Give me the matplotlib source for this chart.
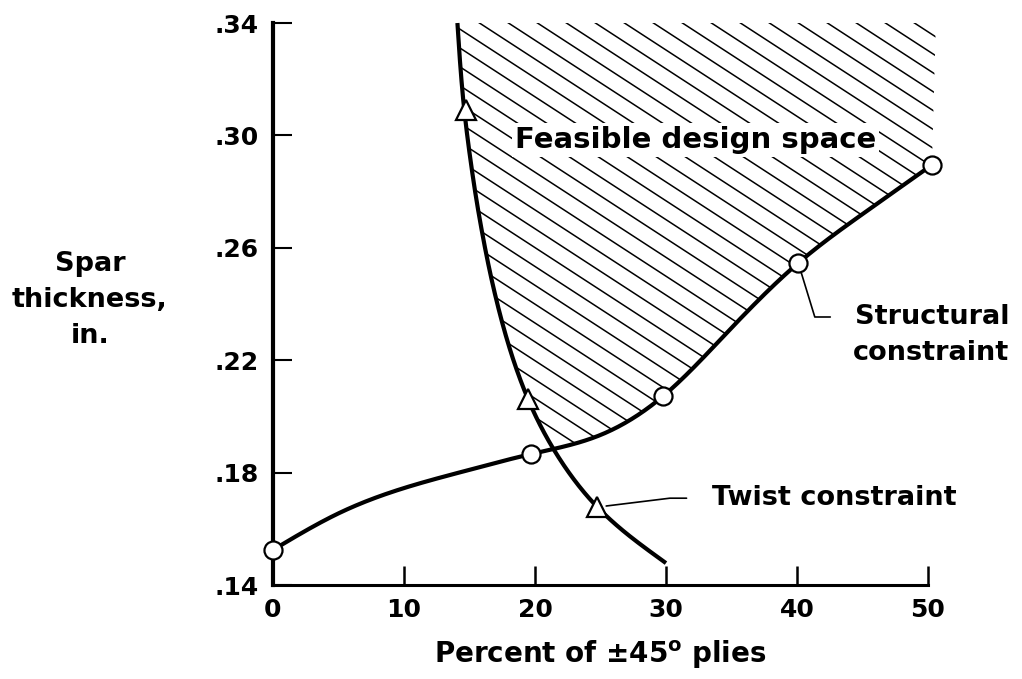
import numpy as np
import matplotlib
matplotlib.use("Agg")
import matplotlib.pyplot as plt
from matplotlib.patches import Polygon
from matplotlib.collections import LineCollection

# structural constraint: design points (circles) and traced curve
structural_x = [0, 19.7, 29.8, 40.1, 50.3]
structural_y = [0.1525, 0.1866, 0.2073, 0.2546, 0.2895]
structural_curve_x = [0, 5, 10, 15, 19.7, 25, 29.8, 35, 40.1, 45, 50.3]
structural_curve_y = [0.1525, 0.1655, 0.1745, 0.181, 0.1866, 0.1934,
                      0.2073, 0.2315, 0.2546, 0.272, 0.2895]

# twist constraint: design points (triangles) and traced curve
twist_x = [14.75, 19.5, 24.7]
twist_y = [0.309, 0.2062, 0.1677]
twist_curve_x = [14.08, 14.40, 14.62, 15.13, 15.51, 15.96, 16.45, 17.02,
                 17.70, 18.48, 19.44, 20.31, 21.36, 22.84, 24.75, 26.94,
                 30.00]
twist_curve_y = [0.3400, 0.3190, 0.3083, 0.2895, 0.2777, 0.2656, 0.2539,
                 0.2421, 0.2300, 0.2183, 0.2065, 0.1977, 0.1888, 0.1784,
                 0.1678, 0.1585, 0.1478]

x_ticks = [0, 10, 20, 30, 40, 50]
y_ticks = [0.14, 0.18, 0.22, 0.26, 0.30, 0.34]


def spline(xk, yk, xs):
    # natural cubic spline through the traced points
    xk = np.asarray(xk, float)
    yk = np.asarray(yk, float)
    n = len(xk)
    h = np.diff(xk)
    a = np.zeros((n, n))
    b = np.zeros(n)
    a[0, 0] = a[-1, -1] = 1.0
    for i in range(1, n - 1):
        a[i, i - 1] = h[i - 1]
        a[i, i] = 2 * (h[i - 1] + h[i])
        a[i, i + 1] = h[i]
        b[i] = 6 * ((yk[i + 1] - yk[i]) / h[i] - (yk[i] - yk[i - 1]) / h[i - 1])
    m = np.linalg.solve(a, b)
    j = np.clip(np.searchsorted(xk, xs) - 1, 0, n - 2)
    t0 = xs - xk[j]
    t1 = xk[j + 1] - xs
    hj = h[j]
    return (m[j] * t1 ** 3 / (6 * hj) + m[j + 1] * t0 ** 3 / (6 * hj)
            + (yk[j] / hj - m[j] * hj / 6) * t1
            + (yk[j + 1] / hj - m[j + 1] * hj / 6) * t0)


plt.rcParams['font.family'] = ['DejaVu Sans']
plt.rcParams['font.weight'] = 'bold'

fig = plt.figure(figsize=(10.22, 6.79), dpi=100)
ax = fig.add_axes([0.2671, 0.1384, 0.6409, 0.8277])
ax.set_xlim(0, 50)
ax.set_ylim(0.14, 0.34)

for side in ['top', 'right']:
    ax.spines[side].set_visible(False)
ax.spines['left'].set_linewidth(3)
ax.spines['bottom'].set_linewidth(2.2)

ax.set_xticks(x_ticks)
ax.set_xticklabels([str(v) for v in x_ticks])
ax.set_yticks(y_ticks)
ax.set_yticklabels([("%.2f" % v).lstrip('0') for v in y_ticks])
ax.tick_params(axis='both', direction='in', length=14, labelsize=18)
ax.tick_params(axis='y', width=1.5, pad=10)
ax.tick_params(axis='x', width=1.8, pad=9)
for lab in ax.get_xticklabels() + ax.get_yticklabels():
    lab.set_fontweight('bold')

# curves (structural as y(x), twist as x(y))
sx = np.linspace(structural_curve_x[0], structural_curve_x[-1], 400)
sy = spline(structural_curve_x, structural_curve_y, sx)
ty = np.linspace(twist_curve_y[0], twist_curve_y[-1], 400)
tx = spline(twist_curve_y[::-1], twist_curve_x[::-1], ty)
ax.plot(sx, sy, color='black', lw=3, zorder=4, clip_on=False,
        solid_capstyle='butt')
ax.plot(tx, ty, color='black', lw=3, zorder=4, clip_on=False,
        solid_capstyle='butt')

# feasible region (above structural, right of twist)
above = ty >= np.interp(tx, sx, sy)
x_cross = tx[above][-1]
keep = sx > x_cross
region_pts = np.vstack([
    np.column_stack([tx[above], ty[above]]),
    np.column_stack([sx[keep], sy[keep]]),
    [[sx[-1] + 0.3, 0.34]],
])
region = Polygon(region_pts, closed=True, facecolor='none',
                 edgecolor='none', transform=ax.transData)
ax.add_patch(region)

# hatch lines, slanted down to the right
pos = ax.get_position()
w_px = fig.get_figwidth() * fig.dpi * pos.width
h_px = fig.get_figheight() * fig.dpi * pos.height
k = 0.65 * w_px / h_px
step = 29.0 / w_px
segs = [[(x0 - 0.5, 1 + 0.5 * k), (x0 + 2, 1 - 2 * k)]
        for x0 in np.arange(-1.5, 1.6, step)]
hatch = LineCollection(segs, colors='black', linewidths=1.1,
                       transform=ax.transAxes, zorder=2)
hatch.set_clip_path(region)
ax.add_collection(hatch)

# markers
ax.plot(structural_x, structural_y, 'o', ms=13, mfc='white', mec='black',
        mew=1.6, zorder=5, clip_on=False)
ax.plot(twist_x, twist_y, '^', ms=15, mfc='white', mec='black',
        mew=1.6, zorder=5, clip_on=False)

# labels
ax.text(18.5, 0.2984, "Feasible design space", fontsize=21,
        fontweight='bold', ha='left', va='center', zorder=3,
        bbox=dict(facecolor='white', edgecolor='none', pad=2))

ax.annotate("Twist constraint", xy=(twist_x[2], twist_y[2]),
            xytext=(115, 9), textcoords='offset pixels',
            fontsize=19.5, fontweight='bold', ha='left', va='center',
            arrowprops=dict(arrowstyle='-', lw=1.2, color='black',
                            connectionstyle='angle,angleA=0,angleB=7,rad=0',
                            shrinkA=16, shrinkB=7, relpos=(0, 0.5)))

ax.annotate("Structural", xy=(structural_x[3], structural_y[3]),
            xytext=(57, -54), textcoords='offset pixels',
            fontsize=19.5, fontweight='bold', ha='left', va='center',
            arrowprops=dict(arrowstyle='-', lw=1.2, color='black',
                            connectionstyle='angle,angleA=0,angleB=107,rad=0',
                            shrinkA=16, shrinkB=7, relpos=(0, 0.5)))
ax.annotate("constraint", xy=(structural_x[3], structural_y[3]),
            xytext=(55, -90), textcoords='offset pixels',
            fontsize=19.5, fontweight='bold', ha='left', va='center')

ax.set_xlabel(r"Percent of ±45$^{\mathbf{o}}$ plies", fontsize=20,
              fontweight='bold', labelpad=12)
fig.text(0.088, 0.558, "Spar\nthickness,\nin.", fontsize=19.5,
         fontweight='bold', ha='center', va='center', linespacing=1.5)

fig.savefig("out.png", dpi=100)
